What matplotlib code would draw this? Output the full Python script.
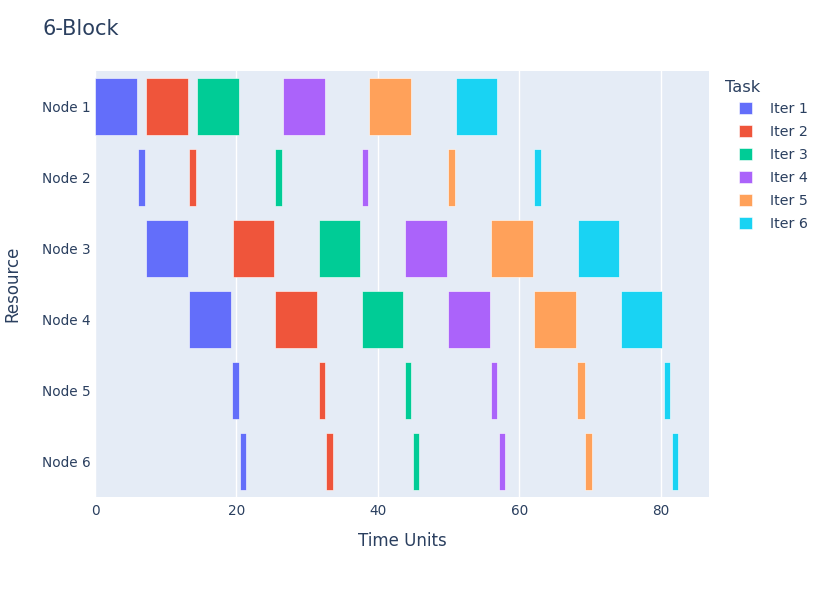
import matplotlib.pyplot as plt
from matplotlib.patches import Patch

# data (start, end) per node per iteration
nodes = ["Node 1", "Node 2", "Node 3", "Node 4", "Node 5", "Node 6"]
iters = ["Iter 1", "Iter 2", "Iter 3", "Iter 4", "Iter 5", "Iter 6"]

node1 = [(0.0, 5.93), (7.25, 13.13), (14.4, 20.3), (26.6, 32.5), (38.8, 44.7), (51.0, 56.9)]
node2 = [(6.12, 7.06), (13.3, 14.3), (25.5, 26.45), (37.7, 38.65), (49.9, 50.85), (62.1, 63.0)]
node3 = [(7.25, 13.13), (19.45, 25.3), (31.6, 37.5), (43.8, 49.7), (56.0, 61.9), (68.3, 74.1)]
node4 = [(13.3, 19.2), (25.5, 31.45), (37.75, 43.6), (49.9, 55.8), (62.1, 68.0), (74.3, 80.2)]
node5 = [(19.4, 20.3), (31.6, 32.5), (43.8, 44.7), (56.0, 56.9), (68.2, 69.2), (80.4, 81.3)]
node6 = [(20.5, 21.4), (32.7, 33.6), (44.9, 45.8), (57.1, 58.0), (69.3, 70.2), (81.5, 82.4)]
schedule = [node1, node2, node3, node4, node5, node6]

colors = ["#636EFA", "#EF553B", "#00CC96", "#AB63FA", "#FFA15A", "#19D3F3"]
txt = "#2a3f5f"
W, H = 831, 593

fig = plt.figure(figsize=(W / 100, H / 100), dpi=100)
ax = fig.add_axes([95 / W, 1 - 497 / H, (709 - 95) / W, (497 - 71) / H])
ax.set_facecolor("#E5ECF6")

for row, tasks in enumerate(schedule):
    for k, (s, e) in enumerate(tasks):
        ax.barh(row, e - s, left=s, height=0.8, color=colors[k],
                edgecolor="white", linewidth=0.4, zorder=3)

ax.set_xlim(0, 86.8)
ax.set_ylim(5.5, -0.5)
ax.set_yticks(range(len(nodes)))
ax.set_yticklabels(nodes)
ax.set_xticks([0, 20, 40, 60, 80])
ax.grid(axis="x", color="white", linewidth=1, zorder=1)
ax.tick_params(length=0, labelsize=9.8, labelcolor=txt)
ax.tick_params(axis="y", pad=3)
ax.tick_params(axis="x", pad=5)
for sp in ax.spines.values():
    sp.set_visible(False)

ax.set_xlabel("Time Units", fontsize=12, color=txt)
ax.set_ylabel("Resource", fontsize=12, color=txt)
ax.xaxis.set_label_coords(0.5, (497 - 541) / 426, transform=ax.transAxes)
ax.xaxis.label.set_va("center")
ax.yaxis.set_label_coords((12 - 95) / 614, 0.5, transform=ax.transAxes)
ax.yaxis.label.set_va("center")
fig.text(42 / W, 1 - 29 / H, "6-Block", fontsize=15, color=txt, va="center")

# legend
fig.text(725 / W, 1 - 87 / H, "Task", fontsize=11.7, color=txt, va="center")
handles = [Patch(facecolor=c, edgecolor="white", linewidth=0.4) for c in colors]
leg = fig.legend(handles, iters, loc="upper left",
                 bbox_to_anchor=(739 / W, 1 - 102 / H), frameon=False,
                 fontsize=10.3, borderpad=0, borderaxespad=0,
                 handlelength=0.9, handleheight=0.95, handletextpad=1.25,
                 labelspacing=0.62, labelcolor=txt)

fig.savefig("out.png", dpi=100)
